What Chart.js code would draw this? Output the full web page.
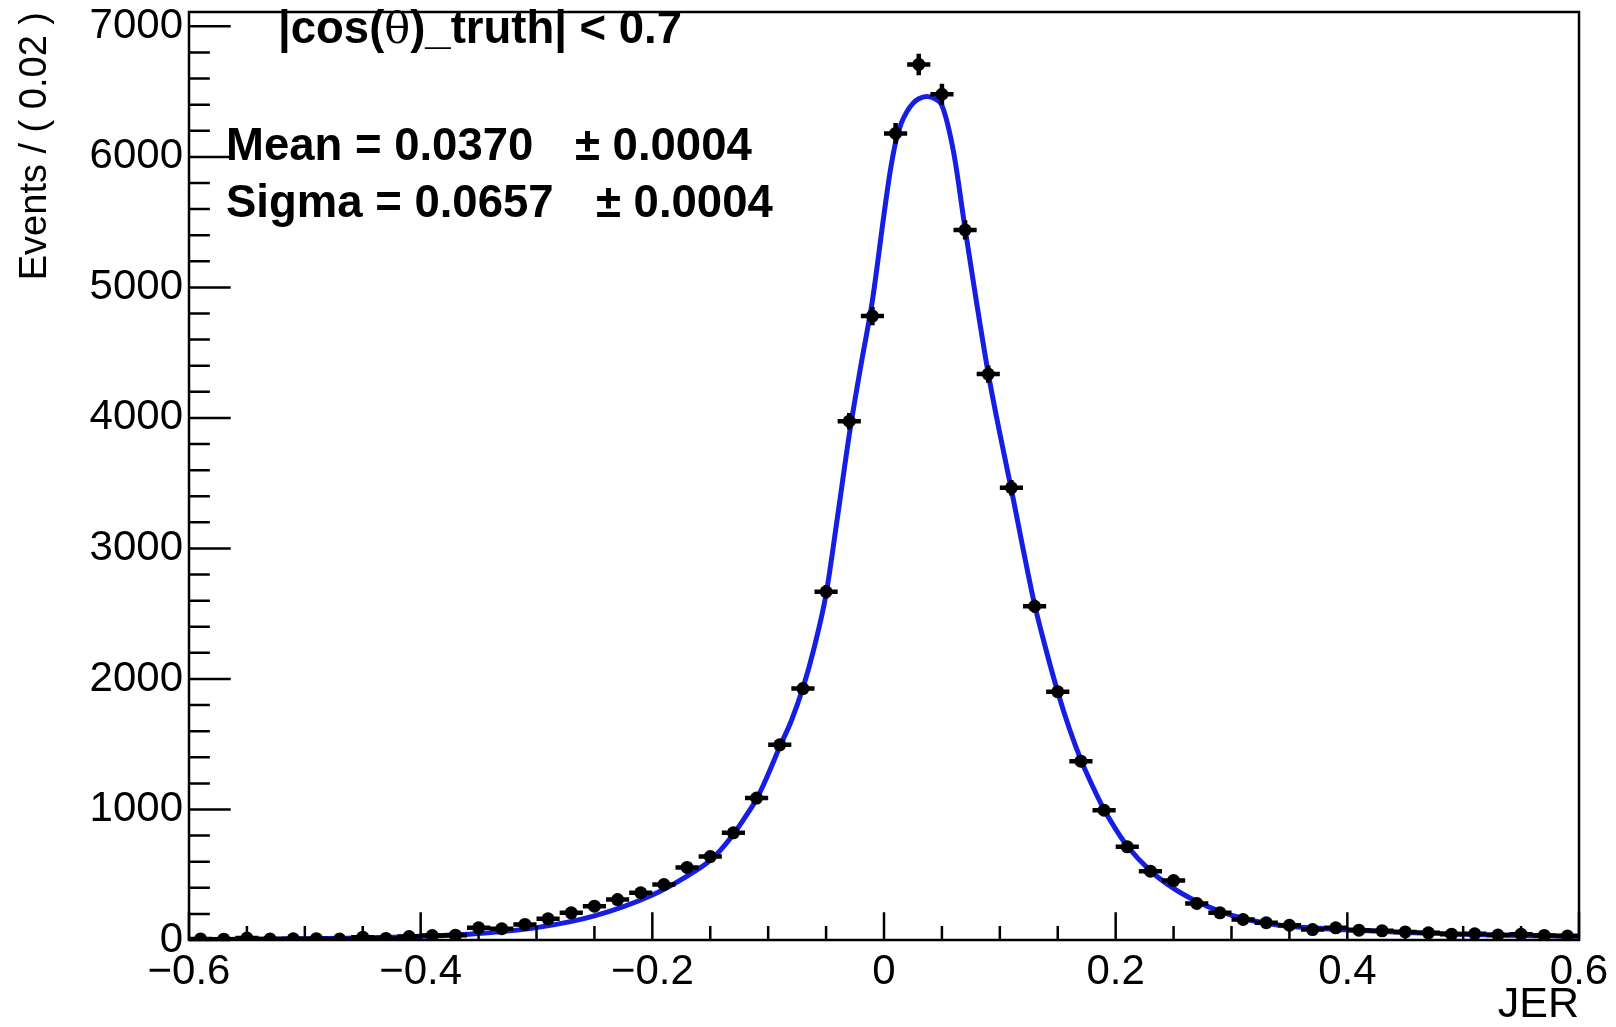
<!DOCTYPE html>
<html>
<head>
<meta charset="utf-8">
<title>JER</title>
<script src="https://cdn.jsdelivr.net/npm/chart.js@4.4.1/dist/chart.umd.min.js"></script>
<style>
  html, body { margin: 0; padding: 0; background: #fff; overflow: hidden; }
  canvas { display: block; }
</style>
</head>
<body>
<canvas id="jerChart" width="1616" height="1027"></canvas>
<script>
// histogram: bin centres (bin width 0.02) and events per bin
const binCenters = [
  -0.59, -0.57, -0.55, -0.53, -0.51, -0.49, -0.47, -0.45, -0.43, -0.41,
  -0.39, -0.37, -0.35, -0.33, -0.31, -0.29, -0.27, -0.25, -0.23, -0.21,
  -0.19, -0.17, -0.15, -0.13, -0.11, -0.09, -0.07, -0.05, -0.03, -0.01,
   0.01,  0.03,  0.05,  0.07,  0.09,  0.11,  0.13,  0.15,  0.17,  0.19,
   0.21,  0.23,  0.25,  0.27,  0.29,  0.31,  0.33,  0.35,  0.37,  0.39,
   0.41,  0.43,  0.45,  0.47,  0.49,  0.51,  0.53,  0.55,  0.57,  0.59
];
const binCounts = [
     8,    6,   15,    7,    9,   10,    7,   22,   12,   27,
    34,   37,   93,   86,  119,  162,  208,  259,  310,  362,
   425,  556,  639,  821, 1087, 1495, 1926, 2668, 3975, 4780,
  6180, 6708, 6480, 5440, 4336, 3465, 2557, 1902, 1370,  994,
   714,  527,  455,  280,  208,  157,  132,  113,   80,   93,
    75,   70,   62,   55,   45,   48,   38,   45,   35,   30
];
const binHalfWidth = 0.01;

// fitted curve, sampled along JER
const fitX = [
  -0.60, -0.55, -0.50, -0.45, -0.40, -0.35, -0.30, -0.25, -0.20,
  -0.17, -0.15, -0.14, -0.13, -0.12, -0.11, -0.10, -0.09, -0.08, -0.07, -0.06,
  -0.05, -0.04, -0.03, -0.02, -0.01, 0.00, 0.005, 0.01, 0.015, 0.02, 0.025, 0.03,
  0.037, 0.045, 0.05, 0.06, 0.07, 0.08, 0.09, 0.10, 0.11, 0.12,
  0.13, 0.14, 0.15, 0.16, 0.17, 0.18, 0.19, 0.20, 0.21, 0.23,
  0.25, 0.27, 0.29, 0.31, 0.33, 0.35, 0.40, 0.45, 0.50, 0.55, 0.60
];
const fitY = [
  4, 6, 9, 15, 28, 50, 95, 185, 345,
  490, 610, 700, 810, 940, 1080, 1270, 1480, 1680, 1930, 2250,
  2650, 3250, 3870, 4400, 4900, 5560, 5870, 6110, 6260, 6350, 6410, 6445,
  6462, 6440, 6395, 6040, 5450, 4880, 4340, 3880, 3450, 3000,
  2570, 2220, 1900, 1620, 1380, 1180, 1000, 850, 720, 530,
  395, 295, 220, 165, 128, 105, 78, 58, 45, 35, 28
];

const xTicks = [-0.6, -0.4, -0.2, 0, 0.2, 0.4, 0.6];
const yTicks = [0, 1000, 2000, 3000, 4000, 5000, 6000, 7000];
const xMinorStep = 0.05;
const yMinorStep = 200;
const xRange = [-0.6, 0.6];
const yRange = [0, 7110];

const cutLabel = ['|cos(', 'θ', ')_truth| < 0.7'];
const meanLabel = ['Mean = 0.0370', '± 0.0004'];
const sigmaLabel = ['Sigma = 0.0657', '± 0.0004'];

const FONT = '"Liberation Sans", Arial, Helvetica, sans-serif';
const FIT_BLUE = 'rgb(22, 30, 228)';

function fmtX(v) {
    if (Math.abs(v) < 1e-9) return '0';
    const s = Math.abs(v).toFixed(1);
    return v < 0 ? '\u2212' + s : s;
}

// ROOT style frame: box, inward major and minor ticks, error bars, fit text
const rootStyle = {
    id: 'rootStyle',
    beforeDatasetDraw(chart, args) {
        if (args.index !== 0) return;
        const ctx = chart.ctx;
        const xs = chart.scales.x, ys = chart.scales.y;
        const area = chart.chartArea;
        ctx.save();
        ctx.beginPath();
        ctx.rect(area.left, area.top, area.right - area.left, area.bottom - area.top);
        ctx.clip();
        ctx.strokeStyle = '#000';
        ctx.lineWidth = 4.5;
        ctx.beginPath();
        binCenters.forEach((c, i) => {
            const n = binCounts[i];
            const err = Math.sqrt(n);
            const px = xs.getPixelForValue(c);
            const py = ys.getPixelForValue(n);
            ctx.moveTo(xs.getPixelForValue(c - binHalfWidth), py);
            ctx.lineTo(xs.getPixelForValue(c + binHalfWidth), py);
            ctx.moveTo(px, ys.getPixelForValue(n - err));
            ctx.lineTo(px, ys.getPixelForValue(n + err));
        });
        ctx.stroke();
        ctx.restore();
    },
    afterDraw(chart) {
        const ctx = chart.ctx;
        const xs = chart.scales.x, ys = chart.scales.y;
        const {left, right, top, bottom} = chart.chartArea;
        ctx.save();
        ctx.strokeStyle = '#000';
        ctx.lineWidth = 2.5;
        ctx.strokeRect(left, top, right - left, bottom - top);

        const yMajor = (right - left) * 0.03;
        const xMajor = (bottom - top) * 0.03;
        ctx.beginPath();
        for (let v = yRange[0]; v <= yRange[1] + 1e-6; v += yMinorStep) {
            const py = ys.getPixelForValue(v);
            const len = yTicks.includes(Math.round(v)) ? yMajor : yMajor / 2;
            ctx.moveTo(left, py);
            ctx.lineTo(left + len, py);
        }
        for (let k = 0; k * xMinorStep <= (xRange[1] - xRange[0]) + 1e-9; k++) {
            const v = xRange[0] + k * xMinorStep;
            const px = xs.getPixelForValue(v);
            const isMajor = xTicks.some(t => Math.abs(t - v) < 1e-6);
            ctx.moveTo(px, bottom);
            ctx.lineTo(px, bottom - (isMajor ? xMajor : xMajor / 2));
        }
        ctx.stroke();

        // fit annotation
        ctx.fillStyle = '#000';
        ctx.textBaseline = 'alphabetic';
        ctx.textAlign = 'left';
        let tx = 278;
        ctx.font = 'bold 45.5px ' + FONT;
        ctx.fillText(cutLabel[0], tx, 43);
        tx += ctx.measureText(cutLabel[0]).width;
        ctx.font = '43px "DejaVu Serif", serif';
        ctx.fillText(cutLabel[1], tx, 43);
        tx += ctx.measureText(cutLabel[1]).width;
        ctx.font = 'bold 45.5px ' + FONT;
        ctx.fillText(cutLabel[2], tx, 43);

        ctx.fillText(meanLabel[0], 226, 160);
        ctx.fillText(sigmaLabel[0], 226, 217);
        ctx.fillText(meanLabel[1], 575, 160);
        ctx.fillText(sigmaLabel[1], 596, 217);
        ctx.restore();
    }
};

const ctx = document.getElementById('jerChart').getContext('2d');
new Chart(ctx, {
    type: 'scatter',
    data: {
        datasets: [
            {
                label: 'data',
                data: binCenters.map((c, i) => ({x: c, y: binCounts[i]})),
                pointRadius: 6.5,
                pointBackgroundColor: '#000',
                pointBorderWidth: 0,
                showLine: false,
                order: 0
            },
            {
                label: 'fit',
                data: fitX.map((x, i) => ({x: x, y: fitY[i]})),
                showLine: true,
                borderColor: FIT_BLUE,
                borderWidth: 5,
                pointRadius: 0,
                cubicInterpolationMode: 'monotone',
                order: 1
            }
        ]
    },
    options: {
        responsive: false,
        animation: false,
        events: [],
        layout: { padding: { top: 12, right: 37, left: 0, bottom: 0 } },
        plugins: {
            legend: { display: false },
            tooltip: { enabled: false }
        },
        scales: {
            x: {
                type: 'linear',
                min: xRange[0],
                max: xRange[1],
                grid: { display: false, drawTicks: false },
                border: { display: false },
                afterBuildTicks: scale => { scale.ticks = xTicks.map(v => ({value: v})); },
                afterFit: scale => {
                    scale.height = 87;
                    scale.paddingLeft = 0;
                    scale.paddingRight = 0;
                },
                ticks: {
                    color: '#000',
                    padding: 7,
                    maxRotation: 0,
                    autoSkip: false,
                    font: { family: FONT, size: 42 },
                    callback: v => fmtX(v)
                },
                title: {
                    display: true,
                    text: 'JER',
                    align: 'end',
                    color: '#000',
                    font: { family: FONT, size: 43, lineHeight: 1 },
                    padding: { top: 0, bottom: 0 }
                }
            },
            y: {
                type: 'linear',
                min: yRange[0],
                max: yRange[1],
                grid: { display: false, drawTicks: false },
                border: { display: false },
                afterBuildTicks: scale => { scale.ticks = yTicks.map(v => ({value: v})); },
                afterFit: scale => {
                    scale.width = 189;
                    scale.paddingTop = 0;
                    scale.paddingBottom = 0;
                },
                ticks: {
                    color: '#000',
                    padding: 6,
                    autoSkip: false,
                    font: { family: FONT, size: 42 },
                    callback: v => String(v)
                },
                title: {
                    display: true,
                    text: 'Events / ( 0.02 )',
                    align: 'end',
                    color: '#000',
                    font: { family: FONT, size: 38, lineHeight: 1.2 },
                    padding: { top: 13, bottom: 0 }
                }
            }
        }
    },
    plugins: [rootStyle]
});
</script>
</body>
</html>
